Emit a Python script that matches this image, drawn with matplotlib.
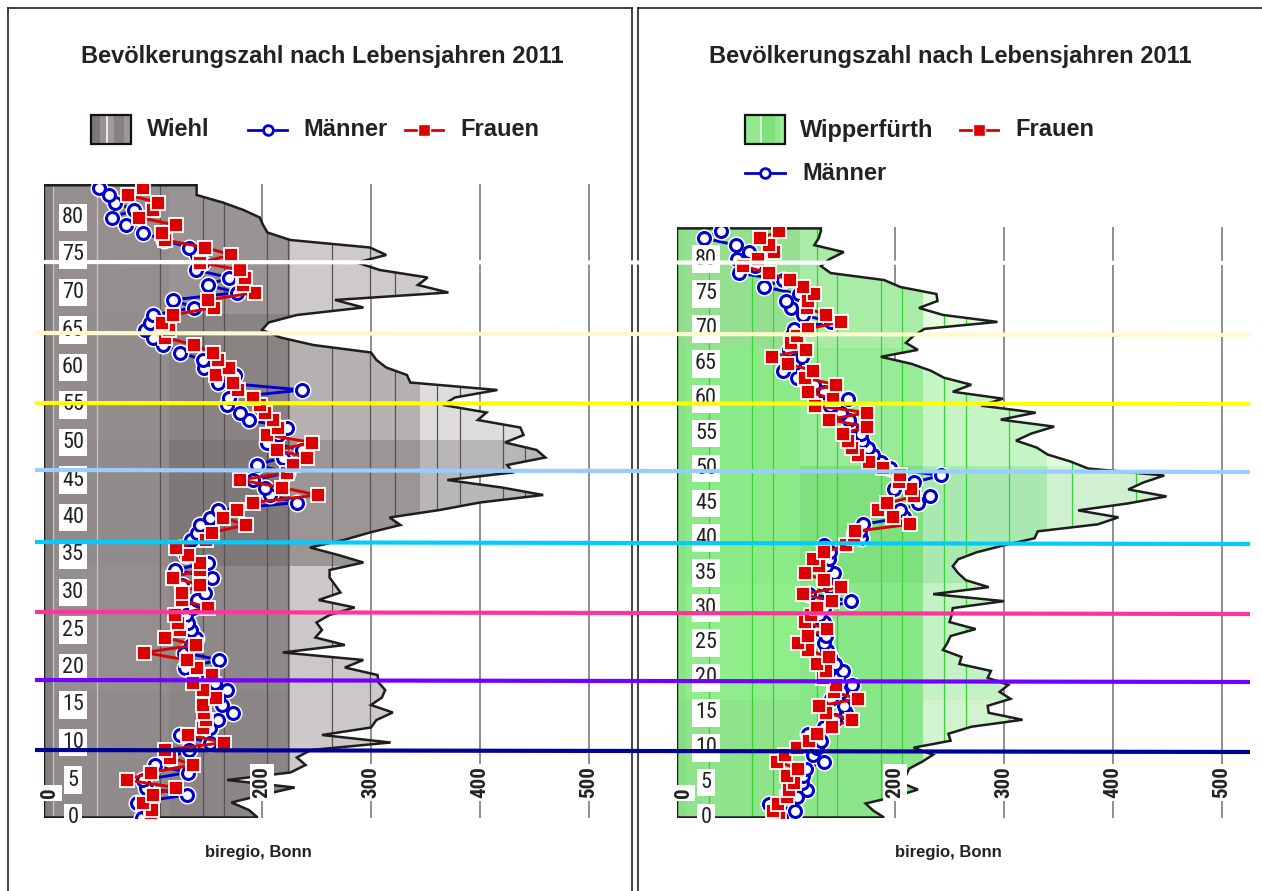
import matplotlib
matplotlib.use("Agg")
import matplotlib.pyplot as plt
from matplotlib.patches import Polygon, Rectangle
from matplotlib.lines import Line2D
from matplotlib import font_manager as fm
from matplotlib.font_manager import FontProperties
import matplotlib.transforms as mtransforms

# ---------------- data ----------------
ages = list(range(85))

wiehl_total = [196, 188, 172, 200, 230, 168, 226, 240, 232, 245,
               318, 255, 300, 305, 320, 300, 310, 313, 307, 306,
               276, 293, 219, 276, 249, 255, 250, 262, 285, 252,
               272, 267, 262, 262, 293, 270, 244, 275, 299, 327,
               317, 363, 400, 458, 420, 370, 430, 425, 460, 452,
               423, 440, 437, 398, 406, 366, 377, 416, 336, 333,
               314, 305, 300, 247, 217, 200, 206, 232, 293, 267,
               371, 343, 352, 308, 287, 314, 299, 226, 205, 201,
               198, 183, 164, 140, 140]

wiehl_maenner = [90, 95, 85, 131, 94, 91, 132, 102, 115, 133,
                 152, 125, 152, 160, 173, 163, 160, 168, 157, 150,
                 129, 161, 128, 135, 139, 135, 132, 130, 137, 140,
                 148, 127, 154, 120, 150, 130, 125, 135, 140, 143,
                 152, 160, 232, 207, 203, 192, 223, 195, 219, 237,
                 205, 215, 223, 188, 180, 168, 170, 237, 160, 175,
                 147, 146, 125, 109, 100, 93, 97, 100, 138, 118,
                 177, 150, 170, 139, 145, 140, 133, 110, 91, 75,
                 62, 83, 65, 60, 50]

wiehl_frauen = [98, 99, 91, 100, 121, 76, 98, 137, 116, 111,
                165, 132, 146, 149, 147, 146, 158, 146, 137, 154,
                140, 131, 92, 139, 111, 125, 123, 120, 150, 127,
                127, 143, 118, 143, 143, 132, 121, 149, 154, 185,
                164, 177, 192, 251, 218, 180, 223, 228, 241, 214,
                246, 205, 215, 210, 203, 198, 192, 178, 173, 158,
                170, 160, 155, 138, 111, 115, 108, 118, 156, 150,
                194, 183, 184, 180, 143, 172, 148, 111, 108, 121,
                87, 100, 105, 77, 91]

wipp_total = [190, 180, 173, 200, 221, 205, 210, 213, 225, 235,
              217, 251, 249, 270, 317, 286, 285, 306, 296, 304,
              285, 288, 259, 261, 244, 248, 251, 274, 250, 252,
              253, 300, 235, 286, 265, 258, 253, 258, 275, 300,
              328, 331, 386, 405, 368, 414, 449, 414, 428, 447,
              377, 361, 340, 330, 311, 325, 346, 297, 329, 279,
              299, 253, 270, 245, 233, 215, 187, 221, 210, 217,
              227, 294, 244, 222, 239, 238, 205, 190, 141, 132,
              140, 153, 126, 130, 132]

wipp_maenner = [95, 108, 84, 110, 119, 115, 116, 118, 135, 125,
                128, 132, 120, 135, 145, 155, 153, 141, 150, 161,
                148, 152, 145, 140, 138, 135, 137, 130, 135, 130,
                135, 160, 121, 140, 135, 144, 137, 139, 140, 135,
                169, 168, 171, 208, 205, 221, 232, 199, 217, 242,
                195, 187, 180, 175, 170, 169, 160, 158, 150, 140,
                157, 135, 126, 110, 97, 107, 115, 103, 110, 105,
                107, 141, 116, 105, 100, 112, 80, 97, 57, 72,
                55, 66, 54, 25, 40]

wipp_frauen = [94, 88, 93, 101, 103, 107, 101, 111, 92, 99,
               110, 121, 128, 142, 161, 137, 130, 166, 144, 146,
               134, 137, 128, 139, 120, 111, 120, 138, 117, 123,
               128, 142, 116, 150, 135, 117, 130, 125, 135, 155,
               162, 163, 214, 198, 184, 193, 217, 215, 204, 205,
               189, 176, 166, 161, 157, 152, 174, 139, 174, 127,
               143, 120, 146, 117, 125, 102, 87, 118, 105, 110,
               120, 150, 137, 119, 120, 126, 116, 104, 84, 61,
               74, 89, 84, 76, 94]

x_ticks = [0, 200, 300, 400, 500]
y_ticks = list(range(0, 81, 5))
title_text = "Bevölkerungszahl nach Lebensjahren 2011"
source_text = "biregio, Bonn"

# ---------------- fonts ----------------
installed = {f.name for f in fm.fontManager.ttflist}
SANS = 'Liberation Sans' if 'Liberation Sans' in installed else 'DejaVu Sans'
plt.rcParams['font.family'] = [SANS, 'DejaVu Sans']


def find_narrow(bold):
    files = [f for f in fm.fontManager.ttflist]
    prefs = ['LiberationSansNarrow', 'ArialNarrow', 'RobotoCondensed',
             'OpenSansCondensed', 'DejaVuSansCondensed']
    for p in prefs:
        for f in files:
            base = f.fname.replace('\\', '/').split('/')[-1].replace('-', '').replace('_', '')
            if base.lower().startswith(p.lower()):
                isbold = 'bold' in base.lower()
                isital = 'italic' in base.lower() or 'oblique' in base.lower()
                if isbold == bold and not isital:
                    return FontProperties(fname=f.fname)
    fp = FontProperties(family=SANS)
    if bold:
        fp.set_weight('bold')
    return fp


NARROW_R = find_narrow(False)
NARROW_B = find_narrow(True)

TXT = '#222222'
BLUE = '#0000cc'
RED = '#dd0000'

W, H = 1262, 891
fig = plt.figure(figsize=(W / 100, H / 100), dpi=100)

Y0 = 817.5
XMAX = 530


def make_axes(x0, ppu, ppy, ymax):
    ax = fig.add_axes([x0 / W, (H - Y0) / H, XMAX * ppu / W, ymax * ppy / H])
    ax.set_xlim(0, XMAX)
    ax.set_ylim(0, ymax)
    ax.axis('off')
    return ax


def draw_panel(ax, total, men, women, zone_edges, band_edges, colors,
               dark_lines, light_lines, dcol, lcol, top, ymax):
    verts = [(0, 0)] + list(zip(total, ages)) + [(total[-1], top), (0, top)]
    clip = Polygon(verts, closed=True, facecolor='none', edgecolor='none')
    ax.add_patch(clip)
    ax.vlines(x_ticks[1:], 0, ymax, color='#707070', lw=1.1, zorder=1)
    for bi in range(len(band_edges) - 1):
        for zi in range(len(zone_edges) - 1):
            r = Rectangle((zone_edges[zi], band_edges[bi]),
                          zone_edges[zi + 1] - zone_edges[zi],
                          band_edges[bi + 1] - band_edges[bi],
                          facecolor=colors[bi][zi], edgecolor='none', zorder=2)
            ax.add_patch(r)
            r.set_clip_path(clip)
    lc = ax.vlines(dark_lines, 0, top, color=dcol, lw=0.9, zorder=3)
    lc.set_clip_path(clip)
    if light_lines:
        ll = ax.vlines(light_lines, 0, top, color=lcol, lw=0.9, zorder=3)
        ll.set_clip_path(clip)
    ax.add_patch(Polygon(verts, closed=True, fill=False, edgecolor='#1e1e1e',
                         lw=1.8, zorder=4))
    # Männer
    ax.plot(men, ages, color=BLUE, lw=2.1, zorder=5)
    ax.plot(men, ages, ls='none', marker='o', ms=8.6, mfc='white', mec='white',
            mew=4.4, zorder=5)
    ax.plot(men, ages, ls='none', marker='o', ms=8.6, mfc='white', mec=BLUE,
            mew=2.2, zorder=5)
    # Frauen
    ax.plot(women, ages, color=RED, lw=2.1, zorder=6)
    ax.plot(women, ages, ls='none', marker='s', ms=10.3, mfc=RED, mec='white',
            mew=1.3, zorder=6)
    # y labels
    ytr = mtransforms.offset_copy(ax.transData, fig=fig, x=29, y=0, units='dots')
    for a in y_ticks:
        t = ax.text(0, a, str(a), transform=ytr, ha='center', va='center',
                    color=TXT, bbox=dict(facecolor='white', edgecolor='none', pad=1.5),
                    zorder=8)
        fp = NARROW_R.copy()
        fp.set_size(16)
        t.set_fontproperties(fp)
    # x labels
    blend = mtransforms.blended_transform_factory(ax.transData, ax.transAxes)
    for v in x_ticks:
        dx = 6 if v == 0 else 0
        tr = mtransforms.offset_copy(blend, fig=fig, x=dx, y=19, units='dots')
        t = ax.text(v, 0, str(v), transform=tr, rotation=90, ha='center', va='bottom',
                    color=TXT, bbox=dict(facecolor='white', edgecolor='none', pad=1.2),
                    zorder=8)
        fp = NARROW_B.copy()
        fp.set_size(15)
        fp.set_weight('bold')
        t.set_fontproperties(fp)


# ---------------- left panel (Wiehl) ----------------
axL = make_axes(44, 1.09, 7.5, 84.5)
gray_colors = [
    ['#857e7e', '#918a8a', '#8c8585', '#cdc9c9', '#e0dede'],
    ['#857e7e', '#958e8e', '#8f8888', '#ccc8c8', '#e0dede'],
    ['#827b7b', '#928b8b', '#7f7878', '#9b9595', '#b8b6b6'],
    ['#857e7e', '#948d8d', '#8a8383', '#b6b1b1', '#dedcdc'],
    ['#857e7e', '#958e8e', '#9a9393', '#cfcaca', '#e0dede'],
]
draw_panel(axL, wiehl_total, wiehl_maenner, wiehl_frauen,
           [0, 8, 115, 226, 345, 600], [0, 16.8, 33.6, 50.4, 67.2, 85],
           gray_colors,
           [106, 146, 165, 205, 224, 264, 299, 322, 361, 382, 421, 441],
           [8, 49], '#5a5252', '#c8c2c2', 84.3, 84.5)

# ---------------- right panel (Wipperfürth) ----------------
axR = make_axes(677, 1.09, 6.98, 84.6)
green_colors = [
    ['#86df84', '#8ee38b', '#8be58a', '#d3f3d0', '#e6f8e4'],
    ['#88e686', '#90ee8a', '#88e888', '#c4f2c4', '#e0f8e0'],
    ['#86e284', '#8aea88', '#7fe07e', '#a9e9b0', '#d1f0d2'],
    ['#86e284', '#8aea88', '#98ec98', '#c5f5c5', '#e0fae0'],
    ['#8ede8a', '#94e090', '#a8eca8', '#e5fbe0', '#f0fff0'],
]
draw_panel(axR, wipp_total, wipp_maenner, wipp_frauen,
           [0, 8, 113, 226, 339, 600], [0, 16.8, 33.6, 50.4, 67.2, 85],
           green_colors,
           [29, 69, 88, 128, 147, 187, 206, 245, 265, 305, 362, 421],
           [], '#33d633', '#d0f8d0', 84.4, 84.6)

# ---------------- overlay (pixel coordinates) ----------------
ov = fig.add_axes([0, 0, 1, 1], zorder=10)
ov.set_xlim(0, W)
ov.set_ylim(H, 0)
ov.axis('off')

# panel frames
for xs, ys in [([8, 8], [8, H]), ([8, 632], [8, 8]), ([632, 632], [8, H]),
               ([638, 638], [8, H]), ([638, W], [8, 8])]:
    ov.add_line(Line2D(xs, ys, color='#222222', lw=1.2))

# horizontal coloured marker lines
hl_colors = ['#ffffff', '#fff9cc', '#ffff00', '#99ccff', '#00ccff',
             '#ff3399', '#7000ff', '#000099']
hl_left = [262, 333, 403, 470, 542, 612, 680, 750]
hl_right = [263, 335, 404, 472, 544, 614, 682, 752]
for c, yl, yr in zip(hl_colors, hl_left, hl_right):
    ov.add_line(Line2D([35, 1250], [yl, yr], color=c, lw=3.0,
                       solid_capstyle='butt'))

# titles and sources
for cx in (322, 950):
    ov.text(cx, 56, title_text, ha='center', va='center', fontsize=17,
            fontweight='bold', color=TXT)
for cx in (258, 948):
    ov.text(cx, 853, source_text, ha='center', va='center', fontsize=12,
            fontweight='bold', color=TXT)


def legend_patch(x0, y0, stripes):
    x = x0 + 1
    for w, c in stripes:
        ov.add_patch(Rectangle((x, y0), w, 29, facecolor=c, edgecolor='none'))
        x += w
    ov.add_patch(Rectangle((x0, y0), 40, 29, fill=False, edgecolor='#111111', lw=1.6))


def legend_line(x0, x1, y, kind):
    if kind == 'm':
        ov.add_line(Line2D([x0, x1], [y, y], color=BLUE, lw=2.0))
        ov.add_line(Line2D([(x0 + x1) / 2], [y], marker='o', ms=7, mfc='white',
                           mec=BLUE, mew=2.0, ls='none'))
    else:
        ov.add_line(Line2D([x0, x1], [y, y], color=RED, lw=2.0))
        ov.add_line(Line2D([(x0 + x1) / 2], [y], marker='s', ms=9, mfc=RED,
                           mec='white', mew=1.0, ls='none'))


legend_patch(91, 115, [(8, '#7d7777'), (6, '#989191'), (1.5, '#e8e8e8'),
                       (6, '#a29b9b'), (10, '#888181'), (7.5, '#9d9797')])
ov.text(147, 130, 'Wiehl', ha='left', va='center', fontsize=17, fontweight='bold', color=TXT)
legend_line(248, 287, 130, 'm')
ov.text(303, 130, 'Männer', ha='left', va='center', fontsize=17, fontweight='bold', color=TXT)
legend_line(405, 443, 130, 'f')
ov.text(460, 130, 'Frauen', ha='left', va='center', fontsize=17, fontweight='bold', color=TXT)

legend_patch(745, 115, [(14, '#95e890'), (1.5, '#d8f8d0'), (13, '#80e07e'),
                        (5, '#8ee98a'), (5.5, '#a0eda0')])
ov.text(800, 130, 'Wipperfürth', ha='left', va='center', fontsize=17, fontweight='bold', color=TXT)
legend_line(960, 998, 130, 'f')
ov.text(1015, 130, 'Frauen', ha='left', va='center', fontsize=17, fontweight='bold', color=TXT)
legend_line(745, 785, 173, 'm')
ov.text(802, 173, 'Männer', ha='left', va='center', fontsize=17, fontweight='bold', color=TXT)

fig.savefig('out.png', dpi=100)
